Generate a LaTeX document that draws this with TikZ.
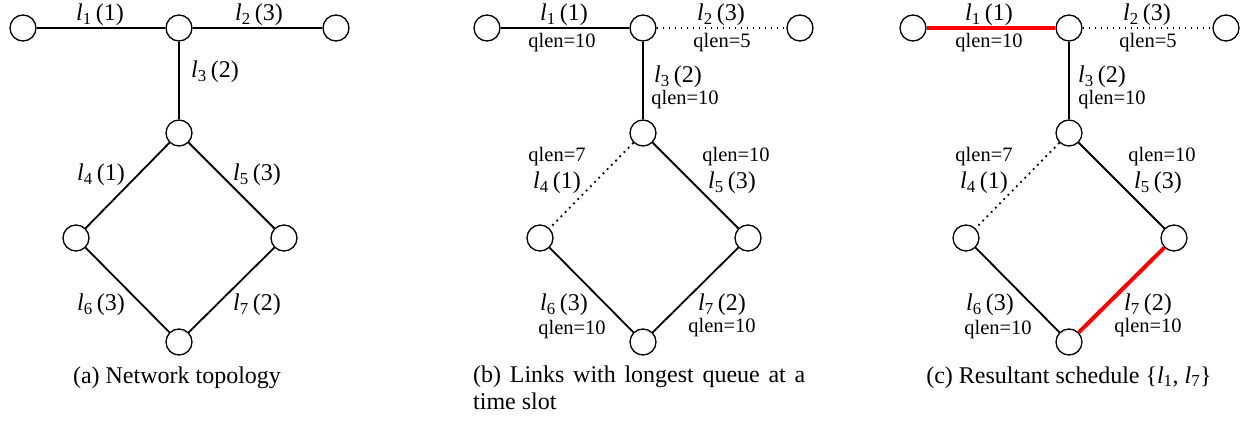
\documentclass[tikz,border=0pt]{standalone}
\usepackage{fontspec}
\setmainfont{Liberation Serif}
\newfontfamily\capfont{Liberation Serif}
\newcommand{\lk}[2]{\textit{l}\textsubscript{#1}\,(#2)}
\begin{document}
\begin{tikzpicture}[x=1pt,y=-1pt]
\tikzset{
  vtx/.style={circle, draw, line width=1.3pt, minimum size=26pt, inner sep=0pt, fill=white},
  lnk/.style={line width=1.8pt},
  idle/.style={line width=1.8pt, dash pattern=on 1.8pt off 4.2pt},
  sel/.style={line width=4pt, red},
  lbl/.style={font=\fontsize{24}{24}\selectfont, inner sep=0pt},
  ql/.style={font=\fontsize{20.5}{20.5}\selectfont, inner sep=0pt},
  captext/.style={font=\capfont\fontsize{24}{27}\selectfont, inner sep=0pt, anchor=base}
}
\useasboundingbox (0,0) rectangle (1247,422);

% ---------- (a) network topology ----------
\begin{scope}
  \node[vtx] (a1) at (23,28) {};
  \node[vtx] (a2) at (179,28) {};
  \node[vtx] (a3) at (336,28) {};
  \node[vtx] (a4) at (179,133) {};
  \node[vtx] (a5) at (76,238) {};
  \node[vtx] (a6) at (284,238) {};
  \node[vtx] (a7) at (179,342) {};
  \draw[lnk] (a1) -- (a2);
  \draw[lnk] (a2) -- (a3);
  \draw[lnk] (a2) -- (a4);
  \draw[lnk] (a4) -- (a5);
  \draw[lnk] (a4) -- (a6);
  \draw[lnk] (a5) -- (a7);
  \draw[lnk] (a6) -- (a7);
  \node[lbl] (al1) at (100,15) {\lk{1}{1}};
  \node[lbl] (al2) at (259,15) {\lk{2}{3}};
  \node[lbl] (al3) at (215,72) {\lk{3}{2}};
  \node[lbl] (al4) at (101,175) {\lk{4}{1}};
  \node[lbl] (al5) at (257,175) {\lk{5}{3}};
  \node[lbl] (al6) at (101,305) {\lk{6}{3}};
  \node[lbl] (al7) at (257,305) {\lk{7}{2}};
  \node[captext] (acap) at (177,383) {(a) Network topology};
\end{scope}

% ---------- (b) longest queues ----------
\begin{scope}[xshift=464pt]
  \node[vtx] (b1) at (23,28) {};
  \node[vtx] (b2) at (179,28) {};
  \node[vtx] (b3) at (336,28) {};
  \node[vtx] (b4) at (179,133) {};
  \node[vtx] (b5) at (76,238) {};
  \node[vtx] (b6) at (284,238) {};
  \node[vtx] (b7) at (179,342) {};
  \draw[lnk] (b1) -- (b2);
  \draw[idle] (b2) -- (b3);
  \draw[lnk] (b2) -- (b4);
  \draw[idle] (b4) -- (b5);
  \draw[lnk] (b4) -- (b6);
  \draw[lnk] (b5) -- (b7);
  \draw[lnk] (b6) -- (b7);
  \node[lbl] (bl1) at (100,15) {\lk{1}{1}};
  \node[ql]  (bq1) at (98,43) {qlen=10};
  \node[lbl] (bl2) at (257,15) {\lk{2}{3}};
  \node[ql]  (bq2) at (258,43) {qlen=5};
  \node[lbl] (bl3) at (214,77) {\lk{3}{2}};
  \node[ql]  (bq3) at (221,100) {qlen=10};
  \node[ql]  (bq4) at (93,157) {qlen=7};
  \node[lbl] (bl4) at (93,183) {\lk{4}{1}};
  \node[ql]  (bq5) at (272,157) {qlen=10};
  \node[lbl] (bl5) at (268,183) {\lk{5}{3}};
  \node[lbl] (bl6) at (100,305) {\lk{6}{3}};
  \node[ql]  (bq6) at (108,330) {qlen=10};
  \node[lbl] (bl7) at (258,305) {\lk{7}{2}};
  \node[ql]  (bq7) at (258,328) {qlen=10};
  \node[captext, anchor=base west] (bcap1) at (9,382) {\makebox[332pt][s]{(b) Links with longest queue at a}};
  \node[captext, anchor=base west] (bcap2) at (9,409) {time slot};
\end{scope}

% ---------- (c) resultant schedule ----------
\begin{scope}[xshift=890pt]
  \node[vtx] (c1) at (23,28) {};
  \node[vtx] (c2) at (179,28) {};
  \node[vtx] (c3) at (336,28) {};
  \node[vtx] (c4) at (179,133) {};
  \node[vtx] (c5) at (76,238) {};
  \node[vtx] (c6) at (284,238) {};
  \node[vtx] (c7) at (179,342) {};
  \draw[sel] (c1) -- (c2);
  \draw[idle] (c2) -- (c3);
  \draw[lnk] (c2) -- (c4);
  \draw[idle] (c4) -- (c5);
  \draw[lnk] (c4) -- (c6);
  \draw[lnk] (c5) -- (c7);
  \draw[sel] (c6) -- (c7);
  \node[lbl] (cl1) at (99,15) {\lk{1}{1}};
  \node[ql]  (cq1) at (99,43) {qlen=10};
  \node[lbl] (cl2) at (257,15) {\lk{2}{3}};
  \node[ql]  (cq2) at (258,43) {qlen=5};
  \node[lbl] (cl3) at (212,77) {\lk{3}{2}};
  \node[ql]  (cq3) at (222,100) {qlen=10};
  \node[ql]  (cq4) at (94,157) {qlen=7};
  \node[lbl] (cl4) at (94,183) {\lk{4}{1}};
  \node[ql]  (cq5) at (272,157) {qlen=10};
  \node[lbl] (cl5) at (268,183) {\lk{5}{3}};
  \node[lbl] (cl6) at (100,305) {\lk{6}{3}};
  \node[ql]  (cq6) at (108,330) {qlen=10};
  \node[lbl] (cl7) at (258,305) {\lk{7}{2}};
  \node[ql]  (cq7) at (258,328) {qlen=10};
  \node[captext] (ccap) at (179,383) {(c) Resultant schedule \{\textit{l}\textsubscript{1}, \textit{l}\textsubscript{7}\}};
\end{scope}
\end{tikzpicture}
\end{document}
